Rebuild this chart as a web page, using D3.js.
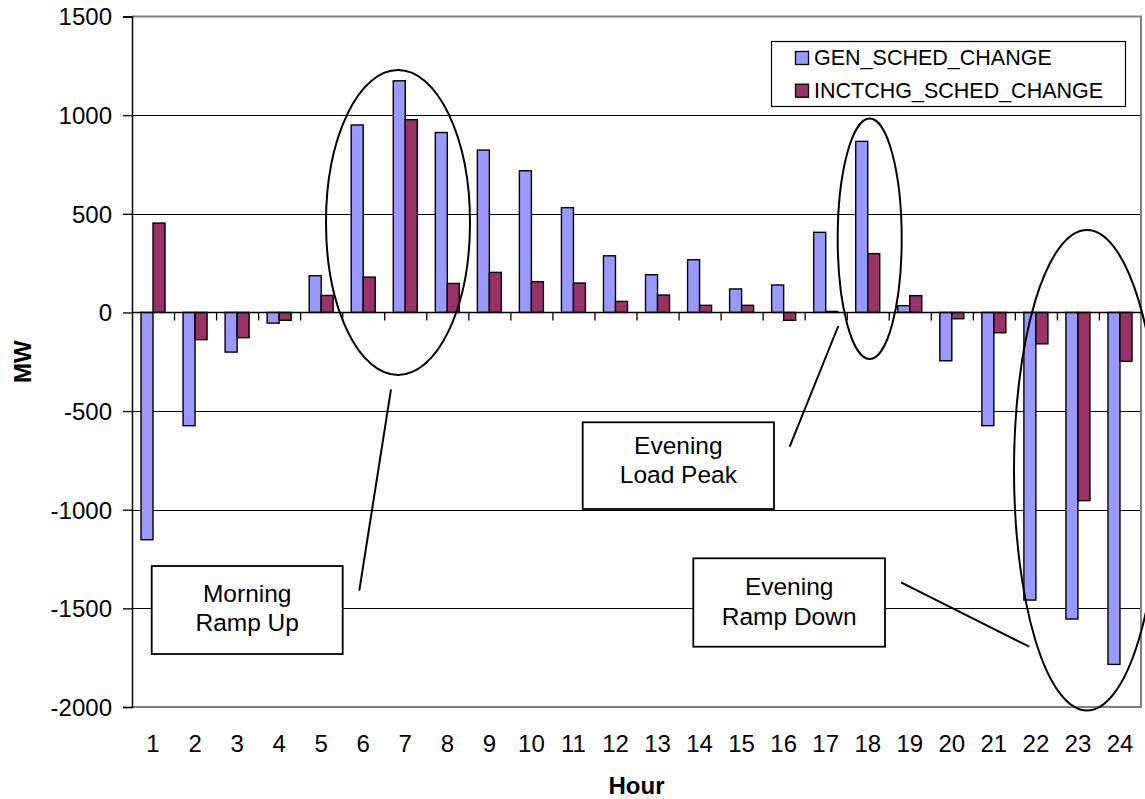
<!DOCTYPE html>
<html>
<head>
<meta charset="utf-8">
<script src="https://cdn.jsdelivr.net/npm/d3@7"></script>
<style>
  html, body { margin: 0; padding: 0; background: #fff; }
  svg { display: block; font-family: Arial, "Liberation Sans", sans-serif; }
</style>
</head>
<body>
<svg id="chart" width="1145" height="799"></svg>
<script>
// ---- data ----
const hours = ["1","2","3","4","5","6","7","8","9","10","11","12","13","14","15","16","17","18","19","20","21","22","23","24"];
const seriesNames = ["GEN_SCHED_CHANGE", "INCTCHG_SCHED_CHANGE"];
const genSchedChange = [-1152, -574, -201, -54, 186, 950, 1174, 912, 823, 718, 531, 287, 191, 267, 119, 139, 406, 867, 34, -245, -574, -1458, -1554, -1784];
const inctchgSchedChange = [453, -138, -128, -40, 86, 179, 977, 147, 203, 156, 149, 56, 88, 36, 36, -40, 5, 298, 85, -32, -103, -159, -954, -248];
const yTicks = [-2000, -1500, -1000, -500, 0, 500, 1000, 1500];
const annotationTexts = [["Morning", "Ramp Up"], ["Evening", "Load Peak"], ["Evening", "Ramp Down"]];
const xTitle = "Hour";
const yTitle = "MW";

// ---- layout ----
const colors = ["#9999FF", "#993366"];
const plot = { left: 132, right: 1141, top: 16.5, bottom: 707 };
const svg = d3.select("#chart");
const FONT = "Arial, 'Liberation Sans', sans-serif";

const x = d3.scaleBand().domain(hours).range([plot.left, plot.right]).padding(0);
const barW = 12;
const x1 = d3.scaleBand().domain(seriesNames)
  .range([x.bandwidth() / 2 - barW, x.bandwidth() / 2 + barW]).padding(0);
const y = d3.scaleLinear().domain([-2000, 1500]).range([plot.bottom, plot.top]);
const xh = d3.scaleLinear().domain([0.5, 24.5]).range([plot.left, plot.right]);

// gridlines
svg.append("g").selectAll("line")
  .data(yTicks.filter(v => v !== 1500 && v !== -2000 && v !== 0))
  .join("line")
  .attr("x1", plot.left).attr("x2", plot.right)
  .attr("y1", d => Math.round(y(d)) + 0.5).attr("y2", d => Math.round(y(d)) + 0.5)
  .attr("stroke", "#000").attr("stroke-width", 1);

// plot border (gray top/right/bottom)
svg.append("path")
  .attr("d", `M${plot.left},${plot.top}H${plot.right}V${plot.bottom}H${plot.left}`)
  .attr("fill", "none").attr("stroke", "#808080").attr("stroke-width", 2);

// bars
const rows = hours.map((h, i) => ({ hour: h, values: [genSchedChange[i], inctchgSchedChange[i]] }));
const groups = svg.append("g").selectAll("g").data(rows).join("g")
  .attr("transform", d => `translate(${x(d.hour)},0)`);
groups.selectAll("rect")
  .data(d => d.values.map((v, k) => ({ key: seriesNames[k], v, k })))
  .join("rect")
  .attr("x", d => x1(d.key))
  .attr("width", x1.bandwidth())
  .attr("y", d => Math.min(y(d.v), y(0)))
  .attr("height", d => Math.abs(y(d.v) - y(0)))
  .attr("fill", d => colors[d.k])
  .attr("stroke", "#000").attr("stroke-width", 1.4);

// y axis
const yAxis = svg.append("g")
  .attr("transform", `translate(${plot.left},0)`)
  .call(d3.axisLeft(y).tickValues(yTicks).tickSize(9).tickPadding(11).tickFormat(d => String(d)));
yAxis.select(".domain").attr("stroke", "#000").attr("stroke-width", 1.5);
yAxis.selectAll(".tick line").attr("stroke", "#000").attr("stroke-width", 1.3);
yAxis.selectAll("text").attr("font-size", 24).attr("fill", "#000")
  .attr("font-family", FONT).attr("dy", "0.35em");

// category axis at zero
const zAxis = svg.append("g")
  .attr("transform", `translate(0,${y(0)})`)
  .call(d3.axisBottom(xh).tickValues(d3.range(1.5, 24.5, 1)).tickSize(8).tickFormat(""));
zAxis.select(".domain").attr("stroke", "#000").attr("stroke-width", 1.5).attr("d", `M${plot.left},0H${plot.right}`);
zAxis.selectAll(".tick line").attr("stroke", "#000").attr("stroke-width", 1.3);

// category labels at bottom
const xAxis = svg.append("g")
  .attr("transform", `translate(0,${plot.bottom})`)
  .call(d3.axisBottom(x).tickSize(0).tickPadding(27.5));
xAxis.select(".domain").remove();
xAxis.selectAll("text").attr("font-size", 24).attr("fill", "#000")
  .attr("font-family", FONT);

// axis titles
svg.append("text").text(xTitle)
  .attr("x", (plot.left + plot.right) / 2).attr("y", 794)
  .attr("text-anchor", "middle").attr("font-weight", "bold").attr("font-size", 24);
svg.append("text").text(yTitle)
  .attr("transform", `translate(31,${(plot.top + plot.bottom) / 2}) rotate(-90)`)
  .attr("text-anchor", "middle").attr("font-weight", "bold").attr("font-size", 24);

// legend
const lg = svg.append("g");
lg.append("rect").attr("x", 771.5).attr("y", 41.5).attr("width", 354).attr("height", 65)
  .attr("fill", "#fff").attr("stroke", "#000").attr("stroke-width", 1.2);
seriesNames.forEach((name, k) => {
  const by = 65 + k * 32.7;
  lg.append("rect").attr("x", 795.5).attr("y", by - 13.5).attr("width", 13).attr("height", 13)
    .attr("fill", colors[k]).attr("stroke", "#000").attr("stroke-width", 1.3);
  lg.append("text").text(name).attr("x", 814).attr("y", by).attr("font-size", 21.5);
});

// annotations: ellipses
const ann = svg.append("g").attr("fill", "none").attr("stroke", "#000").attr("stroke-width", 2);
ann.append("ellipse").attr("cx", 398).attr("cy", 222.5).attr("rx", 72).attr("ry", 152.5);
ann.append("ellipse").attr("cx", 869.7).attr("cy", 238.7).attr("rx", 32).attr("ry", 120.3);
ann.append("ellipse").attr("cx", 1087).attr("cy", 470.3).attr("rx", 73).attr("ry", 240.3);
// pointer lines
ann.append("line").attr("x1", 359.3).attr("y1", 590.7).attr("x2", 391).attr("y2", 389.3);
ann.append("line").attr("x1", 789.7).attr("y1", 446.7).attr("x2", 838.3).attr("y2", 326);
ann.append("line").attr("x1", 901).attr("y1", 582.3).attr("x2", 1029.3).attr("y2", 646.7);

// annotation boxes
const boxes = [
  { x0: 151.7, y0: 566, x1: 342.7, y1: 654, b: [602, 631] },
  { x0: 582.7, y0: 422.3, x1: 774, y1: 509, b: [454, 483] },
  { x0: 693.3, y0: 558.3, x1: 885, y1: 646.7, b: [595, 624.5] }
];
boxes.forEach((bx, i) => {
  const g = svg.append("g");
  g.append("rect").attr("x", bx.x0).attr("y", bx.y0).attr("width", bx.x1 - bx.x0).attr("height", bx.y1 - bx.y0)
    .attr("fill", "#fff").attr("stroke", "#000").attr("stroke-width", 1.8);
  annotationTexts[i].forEach((t, j) => {
    g.append("text").text(t).attr("x", (bx.x0 + bx.x1) / 2).attr("y", bx.b[j])
      .attr("text-anchor", "middle").attr("font-size", 24.5);
  });
});
</script>
</body>
</html>
